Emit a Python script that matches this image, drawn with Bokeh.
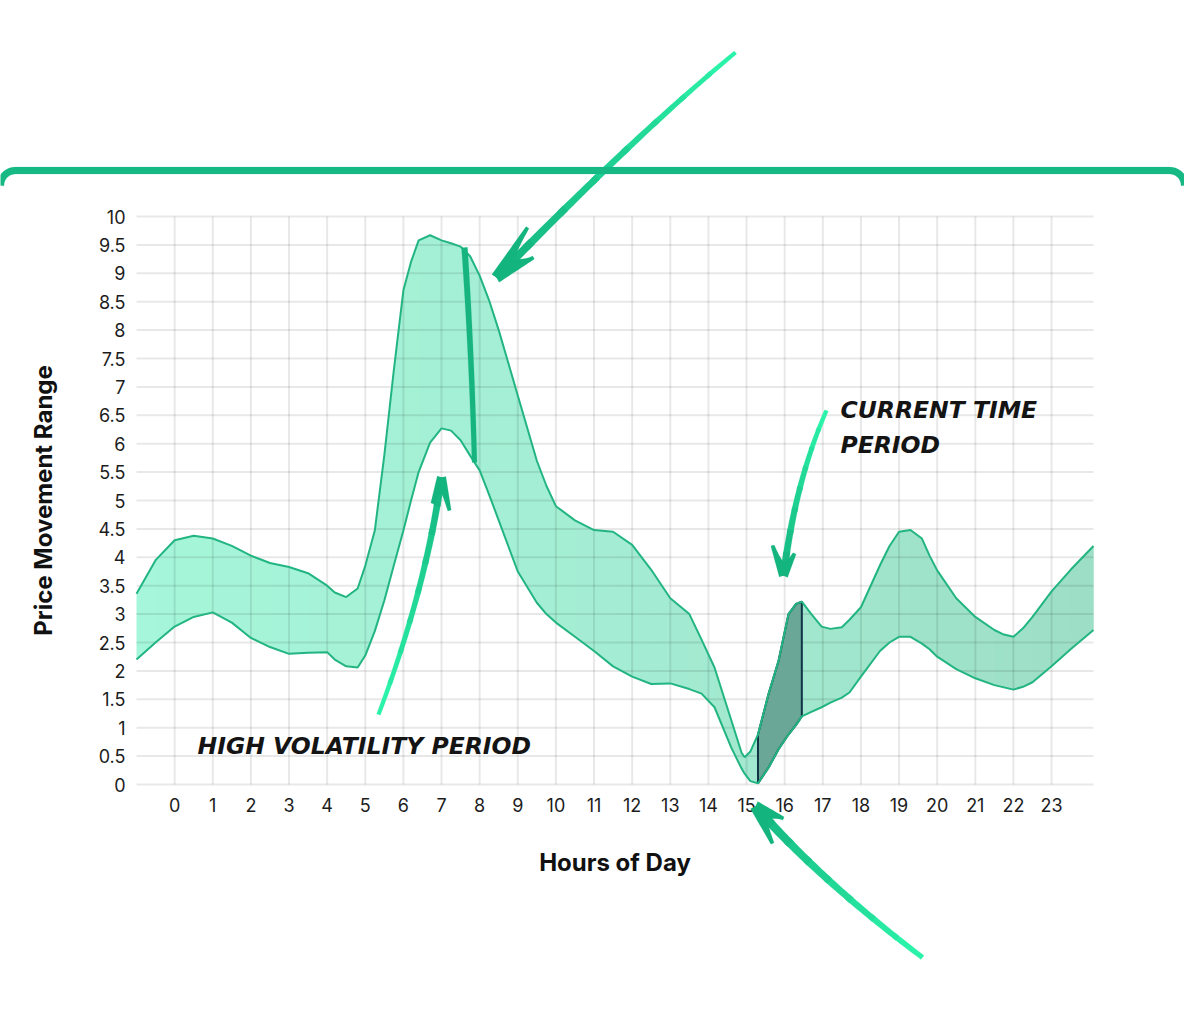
import numpy as np
from bokeh.plotting import figure
from bokeh.models import Range1d, FixedTicker, NumeralTickFormatter, PolyAnnotation, Label, LinearAxis
from bokeh.embed import file_html
from bokeh.resources import INLINE

# ---------------- data ----------------
hours = [-1, -0.5, 0, 0.5, 1, 1.5, 2, 2.5, 3, 3.5, 4, 4.2, 4.5, 4.8, 5, 5.25, 5.5, 5.75, 6, 6.2,
         6.4, 6.7, 7, 7.25, 7.5, 7.75, 8, 8.25, 8.5, 9, 9.5, 9.75, 10, 10.5, 11, 11.5, 12, 12.5,
         13, 13.5, 13.82, 14.16, 14.6, 14.87, 14.95, 15.1, 15.3, 15.58, 15.84, 16.1, 16.3, 16.45,
         16.7, 16.97, 17.2, 17.5, 17.7, 18, 18.5, 18.75, 19, 19.3, 19.6, 19.8, 20, 20.5, 21, 21.5,
         21.75, 22, 22.25, 22.5, 23, 23.5, 24.1]
upper = [3.36, 3.95, 4.3, 4.38, 4.33, 4.2, 4.03, 3.9, 3.83, 3.72, 3.5, 3.38, 3.3, 3.45, 3.85, 4.47,
         5.8, 7.3, 8.7, 9.2, 9.58, 9.67, 9.58, 9.53, 9.47, 9.3, 8.96, 8.52, 8.0, 6.85, 5.7, 5.26,
         4.9, 4.65, 4.48, 4.45, 4.22, 3.78, 3.28, 3.0, 2.55, 2.06, 1.13, 0.56, 0.48, 0.58, 0.88,
         1.6, 2.18, 3.0, 3.18, 3.22, 3.0, 2.78, 2.74, 2.77, 2.9, 3.12, 3.86, 4.2, 4.45, 4.48, 4.33,
         4.03, 3.77, 3.28, 2.95, 2.72, 2.64, 2.6, 2.75, 2.95, 3.4, 3.78, 4.2]
lower = [2.2, 2.5, 2.78, 2.95, 3.03, 2.85, 2.58, 2.42, 2.3, 2.32, 2.33, 2.2, 2.08, 2.06, 2.27, 2.7,
         3.24, 3.86, 4.47, 5.0, 5.5, 6.02, 6.27, 6.23, 6.06, 5.79, 5.53, 5.1, 4.65, 3.75, 3.2, 3.0,
         2.85, 2.6, 2.35, 2.08, 1.9, 1.77, 1.78, 1.68, 1.6, 1.36, 0.65, 0.28, 0.19, 0.06, 0.02,
         0.3, 0.62, 0.88, 1.05, 1.2, 1.28, 1.36, 1.44, 1.53, 1.62, 1.9, 2.35, 2.5, 2.6, 2.6, 2.48,
         2.38, 2.25, 2.03, 1.87, 1.75, 1.71, 1.67, 1.72, 1.8, 2.08, 2.38, 2.72]
current_start = 15.3
current_end = 16.45
x_ticks = list(range(24))
y_ticks = [i * 0.5 for i in range(21)]
x_title = "Hours of Day"
y_title = "Price Movement Range"
note_high = "HIGH VOLATILITY PERIOD"
note_current = ["CURRENT TIME", "PERIOD"]

# ---------------- layout ----------------
# The frame covers the whole canvas so that the hand-drawn arrows may run
# outside the plotting region; axes are pinned with fixed_location.
W, H = 1184, 1000
XA, XB, YA, YB = -1.0, 24.1, 0.0, 10.0          # visible chart region
LEFT, RIGHT, TOP, BOTTOM = 136, 1093, 216, 784  # its pixel box
PXU = (RIGHT - LEFT) / (XB - XA)
PYU = (BOTTOM - TOP) / (YB - YA)
X0 = XA - LEFT / PXU
X1 = X0 + W / PXU
Y1 = YA + BOTTOM / PYU
Y0 = Y1 - H / PYU

p = figure(width=W, height=H, x_range=Range1d(X0, X1), y_range=Range1d(Y0, Y1),
           output_backend="svg", toolbar_location=None,
           x_axis_location=None, y_axis_location=None, min_border=0)
p.outline_line_color = None
p.background_fill_color = "white"
p.border_fill_color = "white"
p.grid.visible = False

def PX(px):
    return X0 + px / PXU

def PY(py):
    return Y1 - py / PYU

# ---------------- grid ----------------
g1 = p.segment(x0=x_ticks, y0=[YA] * len(x_ticks), x1=x_ticks, y1=[YB] * len(x_ticks),
               line_color="black", line_alpha=0.09, line_width=2)
g2 = p.segment(x0=[XA] * len(y_ticks), y0=y_ticks, x1=[XB] * len(y_ticks), y1=y_ticks,
               line_color="black", line_alpha=0.09, line_width=2)
g1.level = "underlay"
g2.level = "underlay"

# ---------------- band fill (horizontal gradient) ----------------
hx = np.array(hours, float)
up = np.array(upper, float)
lo = np.array(lower, float)
n = len(hx)
stops = [(-1.0, (165, 246, 218)), (11.0, (164, 237, 212)), (24.1, (157, 222, 198))]

def grad_color(xv):
    for (xa, ca), (xb, cb) in zip(stops[:-1], stops[1:]):
        if xv <= xb:
            t = (xv - xa) / (xb - xa)
            c = [int(round(a + (b - a) * t)) for a, b in zip(ca, cb)]
            return "#%02x%02x%02x" % tuple(c)
    return "#%02x%02x%02x" % stops[-1][1]

for i in range(n - 1):
    j = min(i + 2, n - 1)
    r = p.varea(x=hx[i:j + 1], y1=lo[i:j + 1], y2=up[i:j + 1],
                fill_color=grad_color((hx[i] + hx[i + 1]) / 2))
    r.level = "image"

# current period highlight
mask = (hx >= current_start) & (hx <= current_end)
cx = hx[mask]
p.patch(x=list(cx) + list(cx[::-1]), y=list(up[mask]) + list(lo[mask][::-1]),
        fill_color="#6aa797", line_color="#0f3546", line_width=2)

# outlines
p.line(hours, upper, line_color="#22b581", line_width=2)
p.line(hours, lower, line_color="#22b581", line_width=2)

# ---------------- axes ----------------
yax = LinearAxis(fixed_location=XA, bounds=(YA, YB), ticker=FixedTicker(ticks=y_ticks),
                 formatter=NumeralTickFormatter(format="0.[0]"), axis_label=y_title)
xax = LinearAxis(fixed_location=YA, bounds=(XA, XB), ticker=FixedTicker(ticks=x_ticks),
                 axis_label=x_title)
p.add_layout(yax, "left")
p.add_layout(xax, "below")
for ax in (xax, yax):
    ax.axis_line_color = None
    ax.major_tick_line_color = None
    ax.minor_tick_line_color = None
    ax.major_tick_out = 0
    ax.major_tick_in = 0
    ax.major_label_text_font = "Inter"
    ax.major_label_text_font_size = "18px"
    ax.major_label_text_color = "#1c1c1c"
    ax.axis_label_text_font = "Inter"
    ax.axis_label_text_font_style = "bold"
    ax.axis_label_text_font_size = "24px"
    ax.axis_label_text_color = "#111111"
xax.major_label_standoff = 13
yax.major_label_standoff = 11
xax.axis_label_standoff = 33
yax.axis_label_standoff = 38

# ---------------- hand-drawn annotations ----------------
def bezier(p0, p1, p2, m=40):
    t = np.linspace(0, 1, m)[:, None]
    a, b, c = (np.array(v, float) for v in (p0, p1, p2))
    return (1 - t) ** 2 * a + 2 * (1 - t) * t * b + t ** 2 * c

def stroke_poly(pts, w0, w1):
    pts = np.asarray(pts, float)
    tg = np.gradient(pts, axis=0)
    tg /= np.linalg.norm(tg, axis=1)[:, None]
    nr = np.stack([-tg[:, 1], tg[:, 0]], axis=1)
    w = np.linspace(w0, w1, len(pts))[:, None] / 2
    return np.vstack([pts + nr * w, (pts - nr * w)[::-1]])

def add_poly(poly, color):
    poly = np.asarray(poly, float)
    p.add_layout(PolyAnnotation(xs=[PX(v) for v in poly[:, 0]], ys=[PY(v) for v in poly[:, 1]],
                                xs_units="data", ys_units="data",
                                fill_color=color, fill_alpha=1, line_color=color,
                                line_width=0.5, level="overlay"))

def mix(c0, c1, t):
    return "#%02x%02x%02x" % tuple(int(round(a + (b - a) * t)) for a, b in zip(c0, c1))

BRIGHT = (44, 246, 172)
DARK = (20, 180, 126)

def arrow(p0, ctrl, p1, barbs, w_tail=4, w_head=8, barb_w=11, chunks=8):
    path = bezier(p0, ctrl, p1, 49)
    m = len(path)
    widths = np.linspace(w_tail, w_head, m)
    size = (m - 1) // chunks
    for k in range(chunks):
        a = k * size
        b = min(m - 1, a + size + 1)
        add_poly(stroke_poly(path[a:b + 1], widths[a], widths[b]),
                 mix(BRIGHT, DARK, (k + 0.5) / chunks))
    head = mix(BRIGHT, DARK, 1.0)
    tip = np.array(p1, float)
    b1, b2 = (np.array(b, float) for b in barbs)
    notch = tip + 0.5 * ((b1 + b2) / 2 - tip)
    add_poly([tip, b1, notch, b2], head)
    for bb in (b1, b2):
        add_poly(stroke_poly(np.linspace(tip, bb, 12), barb_w, 3.5), head)

arrow((735, 52), (640, 130), (496, 277), [(527, 227), (533, 257)], w_tail=4, w_head=8)
arrow((378, 714), (425, 590), (441, 477), [(432, 503), (449, 510)], w_tail=4, w_head=7, barb_w=9)
arrow((826, 410), (795, 480), (783, 575), [(772, 545), (794, 553)], w_tail=4, w_head=7, barb_w=9)
arrow((922, 957), (820, 880), (755, 806), [(783, 818), (772, 843)], w_tail=5, w_head=9)

# marker stroke at the peak
mk = bezier((464, 247), (471, 350), (474, 462), 20)
add_poly(stroke_poly(mk, 6, 5), "#17b47f")

# card top border with rounded corners
R = 15
ang_l = np.linspace(np.pi, 1.5 * np.pi, 10)
left_arc = np.stack([R + R * np.cos(ang_l), 185 + R * np.sin(ang_l)], axis=1)
ang_r = np.linspace(1.5 * np.pi, 2 * np.pi, 10)
right_arc = np.stack([W - R + R * np.cos(ang_r), 185 + R * np.sin(ang_r)], axis=1)
border = np.vstack([left_arc, [[600, 170]], right_arc])
add_poly(stroke_poly(border, 7, 7), "#16b884")

# handwritten notes
for txt, px, py in [(note_high, 197, 745), (note_current[0], 840, 409), (note_current[1], 840, 444)]:
    p.add_layout(Label(x=PX(px), y=PY(py), text=txt, text_font="DejaVu Sans",
                       text_font_style="bold italic", text_font_size="23.5px",
                       text_color="#141414", text_baseline="middle", text_align="left"))

open("out.html", "w").write(file_html(p, INLINE))
